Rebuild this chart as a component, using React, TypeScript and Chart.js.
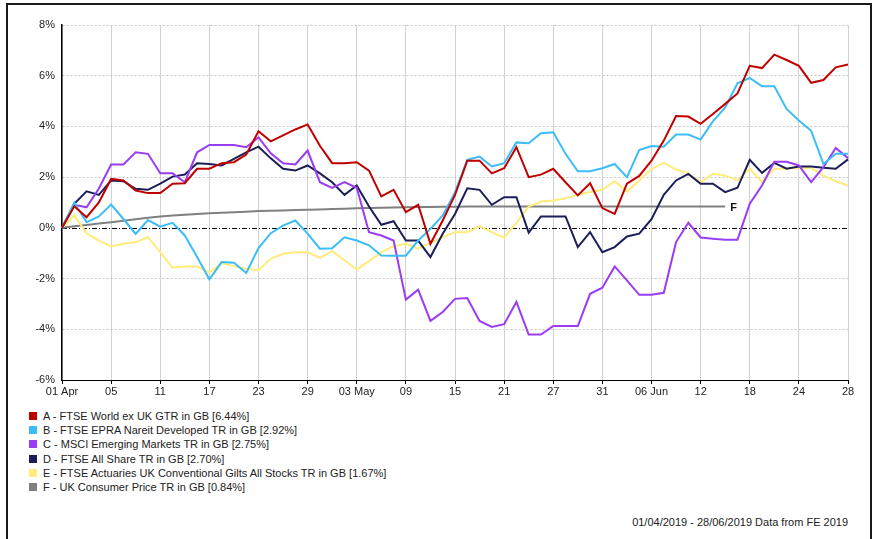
import React, { useEffect, useRef } from "react";
import { Chart, registerables } from "chart.js";

Chart.register(...registerables);

const FONT = '"Liberation Sans", Arial, sans-serif';

const DATES = [
  "2019-04-01", "2019-04-02", "2019-04-03", "2019-04-04", "2019-04-05",
  "2019-04-08", "2019-04-09", "2019-04-10", "2019-04-11", "2019-04-12",
  "2019-04-15", "2019-04-16", "2019-04-17", "2019-04-18", "2019-04-19",
  "2019-04-22", "2019-04-23", "2019-04-24", "2019-04-25", "2019-04-26",
  "2019-04-29", "2019-04-30", "2019-05-01", "2019-05-02", "2019-05-03",
  "2019-05-06", "2019-05-07", "2019-05-08", "2019-05-09", "2019-05-10",
  "2019-05-13", "2019-05-14", "2019-05-15", "2019-05-16", "2019-05-17",
  "2019-05-20", "2019-05-21", "2019-05-22", "2019-05-23", "2019-05-24",
  "2019-05-27", "2019-05-28", "2019-05-29", "2019-05-30", "2019-05-31",
  "2019-06-03", "2019-06-04", "2019-06-05", "2019-06-06", "2019-06-07",
  "2019-06-10", "2019-06-11", "2019-06-12", "2019-06-13", "2019-06-14",
  "2019-06-17", "2019-06-18", "2019-06-19", "2019-06-20", "2019-06-21",
  "2019-06-24", "2019-06-25", "2019-06-26", "2019-06-27", "2019-06-28",
];

const TICK_LABELS = [
  "01 Apr", "05", "11", "17", "23", "29", "03 May", "09", "15",
  "21", "27", "31", "06 Jun", "12", "18", "24", "28",
];

const SERIES_A = [
  0, 0.85, 0.42, 1.0, 1.93, 1.87, 1.47, 1.37, 1.37, 1.74,
  1.76, 2.33, 2.33, 2.55, 2.59, 2.89, 3.81, 3.41, 3.65, 3.88,
  4.08, 3.24, 2.55, 2.55, 2.59, 2.26, 1.24, 1.5, 0.62, 0.91,
  -0.63, 0.29, 1.3, 2.65, 2.65, 2.15, 2.35, 3.18, 2.0, 2.1,
  2.33, 1.8, 1.28, 1.76, 0.78, 0.55, 1.74, 2.05, 2.65, 3.44,
  4.41, 4.39, 4.1, 4.49, 4.89, 5.3, 6.39, 6.3, 6.83, 6.62,
  6.39, 5.72, 5.83, 6.33, 6.44,
];

const SERIES_B = [
  0, 1.0, 0.22, 0.45, 0.92, 0.35, -0.24, 0.31, 0.05, 0.2,
  -0.3, -1.15, -2.03, -1.35, -1.38, -1.78, -0.8, -0.21, 0.09, 0.29,
  -0.23, -0.82, -0.8, -0.37, -0.5, -0.69, -1.09, -1.1, -1.1, -0.5,
  -0.04, 0.49, 1.4, 2.68, 2.81, 2.42, 2.55, 3.37, 3.34, 3.73,
  3.77, 2.92, 2.23, 2.23, 2.35, 2.52, 2.0, 3.07, 3.23, 3.2,
  3.68, 3.68, 3.48, 4.2, 4.75, 5.7, 5.91, 5.58, 5.58, 4.69,
  4.23, 3.83, 2.52, 2.92, 2.92,
];

const SERIES_C = [
  0, 0.91, 0.81, 1.55, 2.5, 2.5, 2.98, 2.92, 2.15, 2.15,
  1.8, 2.98, 3.27, 3.27, 3.27, 3.18, 3.57, 2.94, 2.55, 2.5,
  3.05, 1.8, 1.58, 1.8, 1.58, -0.17, -0.3, -0.5, -2.83, -2.44,
  -3.67, -3.32, -2.8, -2.77, -3.67, -3.91, -3.8, -2.92, -4.21, -4.21,
  -3.87, -3.87, -3.87, -2.6, -2.36, -1.52, -2.07, -2.64, -2.64, -2.56,
  -0.56, 0.2, -0.38, -0.43, -0.47, -0.47, 0.95, 1.67, 2.61, 2.61,
  2.46, 1.8, 2.39, 3.15, 2.75,
];

const SERIES_D = [
  0, 0.95, 1.44, 1.3, 1.87, 1.84, 1.54, 1.5, 1.74, 2.02,
  2.1, 2.55, 2.52, 2.46, 2.72, 2.98, 3.2, 2.74, 2.33, 2.26,
  2.46, 2.15, 1.8, 1.3, 1.67, 0.84, 0.12, 0.26, -0.5, -0.5,
  -1.15, -0.23, 0.55, 1.56, 1.5, 0.91, 1.21, 1.21, -0.19, 0.45,
  0.45, 0.45, -0.76, -0.17, -0.96, -0.76, -0.34, -0.23, 0.34, 1.3,
  1.87, 2.13, 1.74, 1.74, 1.41, 1.58, 2.68, 2.17, 2.56, 2.33,
  2.42, 2.42, 2.37, 2.33, 2.7,
];

const SERIES_E = [
  0, 0.49, -0.22, -0.5, -0.73, -0.63, -0.56, -0.37, -0.96, -1.57,
  -1.52, -1.52, -1.76, -1.4, -1.51, -1.61, -1.67, -1.22, -1.02, -0.96,
  -0.96, -1.18, -0.92, -1.28, -1.64, -1.31, -0.96, -0.72, -0.63, -0.82,
  -0.59, -0.37, -0.17, -0.17, 0.06, -0.17, -0.39, 0.2, 0.84, 1.04,
  1.08, 1.17, 1.3, 1.41, 1.5, 1.84, 1.43, 1.87, 2.33, 2.56,
  2.3, 2.15, 1.8, 2.13, 2.06, 1.87, 2.33, 1.8, 2.33, 2.33,
  2.36, 2.36, 2.06, 1.84, 1.67,
];

const SERIES_F = [
  0, 0.06, 0.11, 0.17, 0.22, 0.28, 0.34, 0.4, 0.45, 0.49,
  0.52, 0.55, 0.58, 0.6, 0.62, 0.64, 0.66, 0.67, 0.68, 0.7,
  0.71, 0.72, 0.74, 0.75, 0.77, 0.78, 0.79, 0.8, 0.81, 0.82,
  0.82, 0.83, 0.83, 0.84, 0.84, 0.84, 0.84, 0.84, 0.84, 0.84,
  0.84, 0.84, 0.84, 0.84, 0.84, 0.84, 0.84, 0.84, 0.84, 0.84,
  0.84, 0.84, 0.84, 0.84, 0.84, null, null, null, null, null,
  null, null, null, null, null,
];

const SERIES_NAMES = [
  "A - FTSE World ex UK GTR in GB [6.44%]",
  "B - FTSE EPRA Nareit Developed TR in GB [2.92%]",
  "C - MSCI Emerging Markets TR in GB [2.75%]",
  "D - FTSE All Share TR in GB [2.70%]",
  "E - FTSE Actuaries UK Conventional Gilts All Stocks TR in GB [1.67%]",
  "F - UK Consumer Price TR in GB [0.84%]",
];

const SERIES_COLORS = ["#C00000", "#3CBDF7", "#9A3CF2", "#1C1E5A", "#FFEC7A", "#808080"];

export default function App() {
  const ref = useRef<HTMLCanvasElement>(null);

  useEffect(() => {
    if (!ref.current) return;
    const all = [SERIES_A, SERIES_B, SERIES_C, SERIES_D, SERIES_E, SERIES_F];

    const zeroLine = {
      id: "zeroLine",
      beforeDatasetsDraw(chart: any) {
        const ctx = chart.ctx;
        const y = Math.round(chart.scales.y.getPixelForValue(0)) + 0.5;
        const { left, right } = chart.chartArea;
        ctx.save();
        ctx.strokeStyle = "#000";
        ctx.lineWidth = 1;
        ctx.setLineDash([5, 2, 1, 2]);
        ctx.beginPath();
        ctx.moveTo(left, y);
        ctx.lineTo(right, y);
        ctx.stroke();
        ctx.restore();
      },
    };

    const endLabel = {
      id: "endLabel",
      afterDatasetsDraw(chart: any) {
        const meta = chart.getDatasetMeta(5);
        let last = -1;
        SERIES_F.forEach((v, i) => {
          if (v !== null) last = i;
        });
        if (last < 0) return;
        const pt = meta.data[last];
        const ctx = chart.ctx;
        ctx.save();
        ctx.fillStyle = "#111";
        ctx.font = `bold 11px ${FONT}`;
        ctx.textBaseline = "middle";
        ctx.textAlign = "left";
        ctx.fillText("F", pt.x + 5, pt.y + 1);
        ctx.restore();
      },
    };

    const chart = new Chart(ref.current, {
      type: "line",
      data: {
        labels: DATES,
        datasets: all.map((d, i) => ({
          label: SERIES_NAMES[i],
          data: d,
          borderColor: SERIES_COLORS[i],
          backgroundColor: SERIES_COLORS[i],
          borderWidth: 2,
          pointRadius: 0,
          pointHoverRadius: 0,
          tension: 0,
          fill: false,
          spanGaps: false,
        })),
      },
      options: {
        animation: false,
        responsive: false,
        devicePixelRatio: 1,
        layout: { padding: { top: 17, right: 12, left: 0, bottom: 0 } },
        plugins: {
          legend: { display: false },
          tooltip: { enabled: false },
          title: { display: false },
        },
        scales: {
          x: {
            type: "category",
            grid: {
              color: (c: any) => (c.index % 4 === 0 ? "#d2d2d2" : "rgba(0,0,0,0)"),
              lineWidth: 1,
              tickColor: (c: any) => (c.index % 4 === 0 ? "#000" : "rgba(0,0,0,0)"),
              tickLength: 4,
              drawTicks: true,
            },
            border: { color: "#000", width: 1 },
            ticks: {
              autoSkip: false,
              maxRotation: 0,
              minRotation: 0,
              padding: 1,
              color: "#222",
              font: { family: FONT, size: 11 },
              callback: (_v: any, i: number) => (i % 4 === 0 ? TICK_LABELS[i / 4] : ""),
            },
            afterFit: (s: any) => {
              s.height = 20;
            },
          },
          y: {
            min: -6,
            max: 8,
            ticks: {
              stepSize: 2,
              padding: 7,
              color: "#222",
              font: { family: FONT, size: 11 },
              callback: (v: any) => `${v}%`,
            },
            grid: {
              color: (c: any) =>
                c.tick && (c.tick.value === 0 || c.tick.value === -6) ? "rgba(0,0,0,0)" : "#c4c4c4",
              lineWidth: 1,
              drawTicks: false,
            },
            border: { color: "#000", width: 1.5, dash: [2, 2] },
            afterFit: (s: any) => {
              s.width = 54;
            },
          },
        },
      },
      plugins: [zeroLine, endLabel],
    } as any);

    return () => chart.destroy();
  }, []);

  return (
    <div
      style={{
        position: "fixed",
        left: 0,
        top: 0,
        width: 875,
        height: 539,
        background: "#fff",
        overflow: "hidden",
        fontFamily: FONT,
      }}
    >
      <div
        style={{
          position: "absolute",
          left: 6,
          top: 3,
          width: 866,
          height: 600,
          border: "2px solid #1a1a1a",
          boxSizing: "border-box",
        }}
      />
      <canvas
        ref={ref}
        width={852}
        height={392}
        style={{ position: "absolute", left: 8, top: 8, width: 852, height: 392 }}
      />
      <div style={{ position: "absolute", left: 29, top: 409 }}>
        {SERIES_NAMES.map((n, i) => (
          <div
            key={n}
            style={{
              display: "flex",
              alignItems: "center",
              height: 14.2,
              fontSize: 11,
              color: "#222",
              whiteSpace: "nowrap",
            }}
          >
            <span
              style={{
                display: "inline-block",
                width: 8,
                height: 8,
                background: SERIES_COLORS[i],
                marginRight: 6,
              }}
            />
            <span>{n}</span>
          </div>
        ))}
      </div>
      <div
        style={{
          position: "absolute",
          right: 27,
          top: 515,
          fontSize: 11,
          lineHeight: "14px",
          color: "#222",
          whiteSpace: "nowrap",
        }}
      >
        01/04/2019 - 28/06/2019 Data from FE 2019
      </div>
    </div>
  );
}
